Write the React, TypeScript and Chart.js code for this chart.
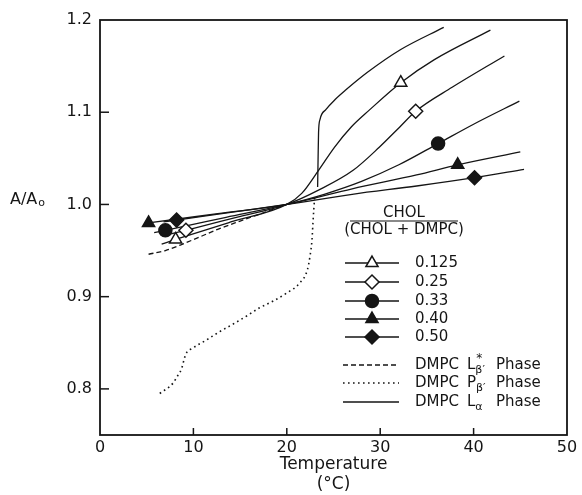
import React, { useEffect, useRef } from 'react';
import { Chart, registerables } from 'chart.js';
import { drawPoint } from 'chart.js/helpers';

Chart.register(...registerables);

const FONT = '"DejaVu Sans", sans-serif';
const INK = '#151515';

// ---- axes ----
const xMin = 0;
const xMax = 50;
const yMin = 0.75;
const yMax = 1.2;
const xTickValues = [0, 10, 20, 30, 40, 50];
const yTickValues = [0.8, 0.9, 1.0, 1.1, 1.2];
const xInnerTicks = [10, 20, 30, 40];
const yInnerTicks = [0.8, 0.9, 1.0, 1.1];

// ---- compositions CHOL/(CHOL+DMPC) ----
const compositions = ['0.125', '0.25', '0.33', '0.40', '0.50'];
const markerStyles = ['triangle', 'rectRot', 'circle', 'triangle', 'rectRot'];
const markerFilled = [false, false, true, true, true];
const markerRadius = [7, 7, 6.5, 7, 7];

const c0125X = [6.6, 8.1, 14, 20, 21.6, 23.4, 25.1, 26.9, 28.8, 32.2, 35.8, 41.8];
const c0125Y = [0.957, 0.962, 0.981, 1.0, 1.012, 1.037, 1.062, 1.084, 1.102, 1.132, 1.157, 1.189];
const c025X = [7.6, 9.2, 14.6, 20, 23.5, 27.1, 29.9, 32.1, 33.8, 37.7, 43.3];
const c025Y = [0.968, 0.972, 0.986, 1.0, 1.016, 1.037, 1.062, 1.084, 1.101, 1.127, 1.161];
const c033X = [5.8, 7.0, 13.5, 20, 24, 28, 32, 36.2, 40, 44.9];
const c033Y = [0.9695, 0.972, 0.986, 1.0, 1.011, 1.025, 1.043, 1.066, 1.087, 1.112];
const c040X = [4.8, 5.2, 12.6, 20, 27, 33.9, 38.3, 45];
const c040Y = [0.9795, 0.98, 0.99, 1.0, 1.017, 1.032, 1.043, 1.057];
const c050X = [6.8, 8.2, 14, 20, 27, 33.9, 40.1, 45.4];
const c050Y = [0.981, 0.983, 0.9915, 1.0, 1.011, 1.02, 1.029, 1.038];

const markerLowX = [8.1, 9.2, 7.0, 5.2, 8.2];
const markerLowY = [0.962, 0.972, 0.972, 0.98, 0.983];
const markerHighX = [32.2, 33.8, 36.2, 38.3, 40.1];
const markerHighY = [1.132, 1.101, 1.066, 1.043, 1.029];

// ---- pure DMPC phases ----
const lBetaStarX = [5.2, 7, 8.6, 10.5, 12.6, 15, 17.5, 20];
const lBetaStarY = [0.946, 0.95, 0.956, 0.964, 0.973, 0.982, 0.991, 1.0];
const pBetaX = [6.4, 7.8, 8.3, 8.7, 9.2, 9.9, 11.4, 12.8, 14.2, 15.7, 17.1, 18.5, 20.0, 21.4, 22.2, 22.5, 22.7, 22.8, 22.9, 23.0];
const pBetaY = [0.795, 0.806, 0.814, 0.821, 0.838, 0.844, 0.853, 0.862, 0.87, 0.879, 0.888, 0.895, 0.904, 0.915, 0.929, 0.945, 0.962, 0.98, 0.996, 1.01];
const lAlphaX = [23.3, 23.35, 23.4, 23.55, 24.2, 25.2, 26.3, 28.6, 32.2, 36.8];
const lAlphaY = [1.019, 1.05, 1.078, 1.092, 1.103, 1.114, 1.124, 1.143, 1.168, 1.192];

const phaseBase = ['L', 'P', 'L'];
const phaseSub = ['β′', 'β′', 'α'];
const phaseSup = ['*', '', ''];
const phaseDash = [[5, 3], [1.6, 3.4], []];
const phaseWidth = [1.3, 1.6, 1.3];

const legendTitleTop = 'CHOL';
const legendTitleBottom = '(CHOL + DMPC)';

const curveXs = [c0125X, c025X, c033X, c040X, c050X];
const curveYs = [c0125Y, c025Y, c033Y, c040Y, c050Y];

const pts = (xs: number[], ys: number[]) => xs.map((x, i) => ({ x, y: ys[i] }));

const annotate = {
  id: 'annotate',
  afterDraw(chart: any) {
    const { ctx, chartArea: a, scales } = chart;
    const sx = scales.x;
    const sy = scales.y;
    const line = (x1: number, y1: number, x2: number, y2: number) => {
      ctx.beginPath();
      ctx.moveTo(x1, y1);
      ctx.lineTo(x2, y2);
      ctx.stroke();
    };
    ctx.save();
    ctx.strokeStyle = INK;
    ctx.fillStyle = INK;
    ctx.lineWidth = 1.8;
    ctx.strokeRect(a.left, a.top, a.right - a.left, a.bottom - a.top);
    ctx.lineWidth = 1.5;
    xInnerTicks.forEach((v) => {
      const px = sx.getPixelForValue(v);
      line(px, a.bottom, px, a.bottom - 7);
    });
    yInnerTicks.forEach((v) => {
      const py = sy.getPixelForValue(v);
      line(a.left, py, a.left + 9, py);
    });

    // y-axis title, horizontal
    ctx.textBaseline = 'alphabetic';
    ctx.textAlign = 'left';
    ctx.font = `16px ${FONT}`;
    ctx.fillText('A/A', 10, 204);
    const wA = ctx.measureText('A/A').width;
    ctx.font = `11px ${FONT}`;
    ctx.fillText('o', 10 + wA + 1, 206);

    // legend
    const lx0 = a.left + 245;
    const lx1 = a.left + 299;
    const lmx = a.left + 272;
    const ltx = a.left + 315;
    ctx.textBaseline = 'middle';
    ctx.textAlign = 'center';
    ctx.font = `15px ${FONT}`;
    ctx.fillText(legendTitleTop, a.left + 304, a.top + 193);
    ctx.lineWidth = 1.2;
    line(a.left + 250, a.top + 201, a.left + 358, a.top + 201);
    ctx.fillText(legendTitleBottom, a.left + 304, a.top + 210);

    const rowY = [243, 262, 281, 299, 317];
    compositions.forEach((label, i) => {
      const y = a.top + rowY[i];
      ctx.lineWidth = 1.3;
      ctx.setLineDash([]);
      line(lx0, y, lx1, y);
      ctx.fillStyle = markerFilled[i] ? INK : '#ffffff';
      ctx.strokeStyle = INK;
      ctx.lineWidth = 1.5;
      drawPoint(ctx, { pointStyle: markerStyles[i], radius: markerRadius[i], rotation: 0, borderWidth: 1.5 }, lmx, y);
      ctx.fillStyle = INK;
      ctx.textAlign = 'left';
      ctx.font = `15px ${FONT}`;
      ctx.fillText(label, ltx, y);
    });

    const phaseY = [345, 363, 382];
    phaseBase.forEach((base, i) => {
      const y = a.top + phaseY[i];
      ctx.lineWidth = phaseWidth[i];
      ctx.setLineDash(phaseDash[i]);
      line(lx0 - 2, y, lx1, y);
      ctx.setLineDash([]);
      ctx.textAlign = 'left';
      ctx.font = `15px ${FONT}`;
      ctx.fillText('DMPC', ltx, y);
      const bx = ltx + 52;
      ctx.fillText(base, bx, y);
      const bw = ctx.measureText(base).width;
      ctx.font = `11px ${FONT}`;
      ctx.fillText(phaseSub[i], bx + bw, y + 5);
      if (phaseSup[i]) {
        ctx.font = `12px ${FONT}`;
        ctx.fillText(phaseSup[i], bx + bw + 1, y - 6);
      }
      ctx.font = `15px ${FONT}`;
      ctx.fillText('Phase', ltx + 81, y);
    });
    ctx.restore();
  },
};

export default function App() {
  const ref = useRef<HTMLCanvasElement>(null);
  useEffect(() => {
    if (!ref.current) return;
    const markerSets = compositions.map((label, i) => ({
      label: label + ' markers',
      data: [
        { x: markerLowX[i], y: markerLowY[i] },
        { x: markerHighX[i], y: markerHighY[i] },
      ],
      showLine: false,
      pointStyle: markerStyles[i],
      pointRadius: markerRadius[i],
      pointBorderWidth: 1.5,
      pointBorderColor: INK,
      pointBackgroundColor: markerFilled[i] ? INK : '#ffffff',
    }));
    const curveSets = compositions.map((label, i) => ({
      label,
      data: pts(curveXs[i], curveYs[i]),
      borderColor: INK,
      borderWidth: 1.3,
      pointRadius: 0,
      cubicInterpolationMode: 'monotone',
      fill: false,
    }));
    const phaseSets = [
      { xs: lBetaStarX, ys: lBetaStarY, i: 0 },
      { xs: pBetaX, ys: pBetaY, i: 1 },
      { xs: lAlphaX, ys: lAlphaY, i: 2 },
    ].map(({ xs, ys, i }) => ({
      label: 'DMPC ' + phaseBase[i] + phaseSub[i] + ' Phase',
      data: pts(xs, ys),
      borderColor: INK,
      borderWidth: phaseWidth[i],
      borderDash: phaseDash[i],
      pointRadius: 0,
      cubicInterpolationMode: 'monotone',
      fill: false,
    }));

    const chart = new Chart(ref.current, {
      type: 'line',
      data: { datasets: [...markerSets, ...curveSets, ...phaseSets] as any },
      options: {
        animation: false,
        responsive: true,
        maintainAspectRatio: false,
        devicePixelRatio: 1,
        layout: { padding: { top: 20, right: 15, left: 0, bottom: 0 } },
        plugins: { legend: { display: false }, tooltip: { enabled: false } },
        scales: {
          x: {
            type: 'linear',
            min: xMin,
            max: xMax,
            afterFit: (s: any) => {
              s.height = 60;
            },
            afterBuildTicks: (s: any) => {
              s.ticks = xTickValues.map((v) => ({ value: v }));
            },
            grid: { display: false, drawTicks: false },
            border: { display: false },
            ticks: {
              autoSkip: false,
              maxRotation: 0,
              padding: 3,
              color: INK,
              font: { family: FONT, size: 16 },
              callback: (v: any) => String(v),
            },
            title: {
              display: true,
              text: ['Temperature', '(°C)'],
              color: INK,
              font: { family: FONT, size: 17 },
              padding: { top: 0, bottom: 0 },
            },
          },
          y: {
            type: 'linear',
            min: yMin,
            max: yMax,
            afterFit: (s: any) => {
              s.width = 100;
            },
            afterBuildTicks: (s: any) => {
              s.ticks = yTickValues.map((v) => ({ value: v }));
            },
            grid: { display: false, drawTicks: false },
            border: { display: false },
            ticks: {
              padding: 8,
              color: INK,
              font: { family: FONT, size: 16 },
              callback: (v: any) => Number(v).toFixed(1),
            },
          },
        },
      },
      plugins: [annotate],
    });
    return () => chart.destroy();
  }, []);
  return (
    <div style={{ position: 'fixed', left: 0, top: 0, width: 582, height: 495, background: '#ffffff' }}>
      <canvas ref={ref} />
    </div>
  );
}
